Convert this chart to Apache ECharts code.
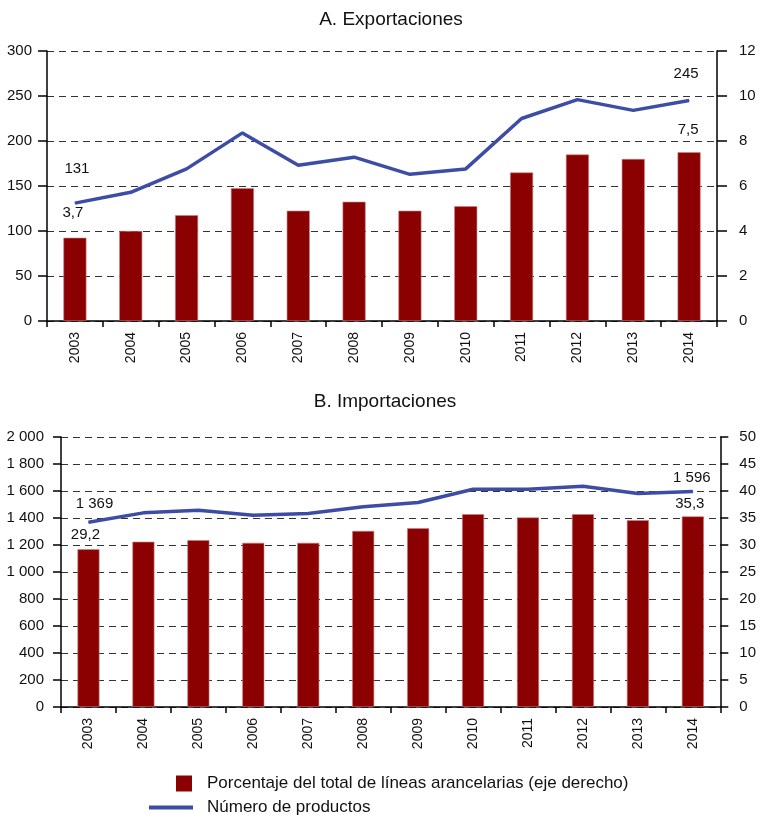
<!DOCTYPE html>
<html>
<head>
<meta charset="utf-8">
<script src="https://cdn.jsdelivr.net/npm/echarts@6/dist/echarts.min.js"></script>
<style>
html,body{margin:0;padding:0;background:#fff;}
#c{width:759px;height:815px;}
</style>
</head>
<body>
<div id="c"></div>
<script>
// ---- data ----
var years = ['2003','2004','2005','2006','2007','2008','2009','2010','2011','2012','2013','2014'];
var expPct = [3.7, 4.0, 4.7, 5.9, 4.9, 5.3, 4.9, 5.1, 6.6, 7.4, 7.2, 7.5];
var expNum = [131, 143, 169, 209, 173, 182, 163, 169, 225, 246, 234, 245];
var impPct = [29.2, 30.6, 30.9, 30.4, 30.4, 32.6, 33.1, 35.7, 35.1, 35.7, 34.6, 35.3];
var impNum = [1369, 1438, 1458, 1421, 1433, 1483, 1515, 1613, 1613, 1635, 1581, 1596];
var titles = ['A. Exportaciones', 'B. Importaciones'];
var nameBar = 'Porcentaje del total de líneas arancelarias (eje derecho)';
var nameLine = 'Número de productos';

var FONT = '"Liberation Sans", Arial, sans-serif';
var RED = '#8B0000';
var BLUE = '#3D4DA6';

function fmtDec(v){ return String(v).replace('.', ','); }
function fmtThou(v){ return String(v).replace(/\B(?=(\d{3})+(?!\d))/g, ' '); }

// label first & last points (position: 'inside' for lines = centred on point, 'top' for bars)
function withLabels(arr, fmt, pos, offFirst, offLast){
  return arr.map(function(v, i){
    if (i === 0 || i === arr.length - 1) {
      var off = i === 0 ? offFirst : offLast;
      return {value: v, label: {show: true, position: pos, distance: 0, offset: off,
        formatter: fmt(v), fontSize: 15, color: '#111', fontFamily: FONT}};
    }
    return v;
  });
}

var chart = echarts.init(document.getElementById('c'), null, {renderer: 'canvas'});

function xAxis(gi){
  return {
    type: 'category', gridIndex: gi, data: years,
    axisLine: {lineStyle: {color: '#000', width: 1.5}},
    axisTick: {show: true, length: 6, lineStyle: {color: '#000', width: 1.5}},
    axisLabel: {rotate: 90, margin: 11, fontSize: 14, color: '#111', fontFamily: FONT, interval: 0}
  };
}
function leftAxis(gi, max, interval, fmt, margin, tick){
  return {
    type: 'value', gridIndex: gi, position: 'left', min: 0, max: max, interval: interval,
    axisLine: {show: true, lineStyle: {color: '#000', width: 1.5}},
    axisTick: {show: true, length: tick, lineStyle: {color: '#000', width: 1.5}},
    axisLabel: {margin: margin, fontSize: 15, color: '#111', fontFamily: FONT, formatter: fmt},
    splitLine: {show: true, lineStyle: {color: '#333', type: [7, 5], width: 1}}
  };
}
function rightAxis(gi, max, interval, margin, tick){
  return {
    type: 'value', gridIndex: gi, position: 'right', min: 0, max: max, interval: interval,
    axisLine: {show: true, lineStyle: {color: '#000', width: 1.5}},
    axisTick: {show: true, length: tick, lineStyle: {color: '#000', width: 1.5}},
    axisLabel: {margin: margin, fontSize: 15, color: '#111', fontFamily: FONT, align: 'left'},
    splitLine: {show: false}
  };
}

var option = {
  animation: false,
  backgroundColor: '#fff',
  textStyle: {fontFamily: FONT},
  title: [
    {text: titles[0], left: 386, top: 5, textAlign: 'center',
     textStyle: {fontSize: 19, fontWeight: 'normal', color: '#111', fontFamily: FONT}},
    {text: titles[1], left: 380, top: 387, textAlign: 'center',
     textStyle: {fontSize: 19, fontWeight: 'normal', color: '#111', fontFamily: FONT}}
  ],
  legend: [
    {data: [{name: nameBar, icon: 'rect', itemStyle: {color: RED, borderWidth: 0}}], left: 176, top: 775, orient: 'vertical',
     itemWidth: 16, itemHeight: 16, padding: 0, selectedMode: false,
     textStyle: {fontSize: 17, color: '#111', fontFamily: FONT, padding: [0, 0, 0, 10]}},
    {data: [{name: nameLine, icon: 'rect', itemStyle: {color: BLUE}}], left: 149, top: 799, orient: 'vertical',
     itemWidth: 44, itemHeight: 4, padding: 0, selectedMode: false,
     textStyle: {fontSize: 17, color: '#111', fontFamily: FONT, padding: [0, 0, 0, 9]}}
  ],
  grid: [
    {left: 47, right: 42, top: 51, height: 270},
    {left: 61, right: 38, top: 437, height: 270}
  ],
  xAxis: [xAxis(0), xAxis(1)],
  yAxis: [
    leftAxis(0, 300, 50, null, 15, 9),
    rightAxis(0, 12, 2, 22, 10),
    leftAxis(1, 2000, 200, function(v){ return fmtThou(v); }, 17, 8),
    rightAxis(1, 50, 5, 19, 8)
  ],
  series: [
    {name: nameBar, type: 'bar', xAxisIndex: 0, yAxisIndex: 1, barWidth: 23,
     itemStyle: {color: RED, borderColor: '#c98080', borderWidth: 0.6},
     data: withLabels(expPct, fmtDec, 'top', [-2, -17], [-1, -15]),
     z: 2},
    {name: nameLine, type: 'line', xAxisIndex: 0, yAxisIndex: 0,
     symbol: 'circle', symbolSize: 1, showSymbol: true,
     lineStyle: {color: BLUE, width: 3.5}, itemStyle: {color: BLUE},
     data: withLabels(expNum, fmtThou, 'inside', [2, -34], [-3, -27]),
     z: 3},
    {name: nameBar, type: 'bar', xAxisIndex: 1, yAxisIndex: 3, barWidth: 22,
     itemStyle: {color: RED, borderColor: '#c98080', borderWidth: 0.6},
     data: withLabels(impPct, fmtDec, 'top', [-3, -7], [-3, -5]),
     z: 2},
    {name: nameLine, type: 'line', xAxisIndex: 1, yAxisIndex: 2,
     symbol: 'circle', symbolSize: 1, showSymbol: true,
     lineStyle: {color: BLUE, width: 3.5}, itemStyle: {color: BLUE},
     data: withLabels(impNum, fmtThou, 'inside', [6, -18], [-1, -13.5]),
     z: 3}
  ]
};

chart.setOption(option);
</script>
</body>
</html>
